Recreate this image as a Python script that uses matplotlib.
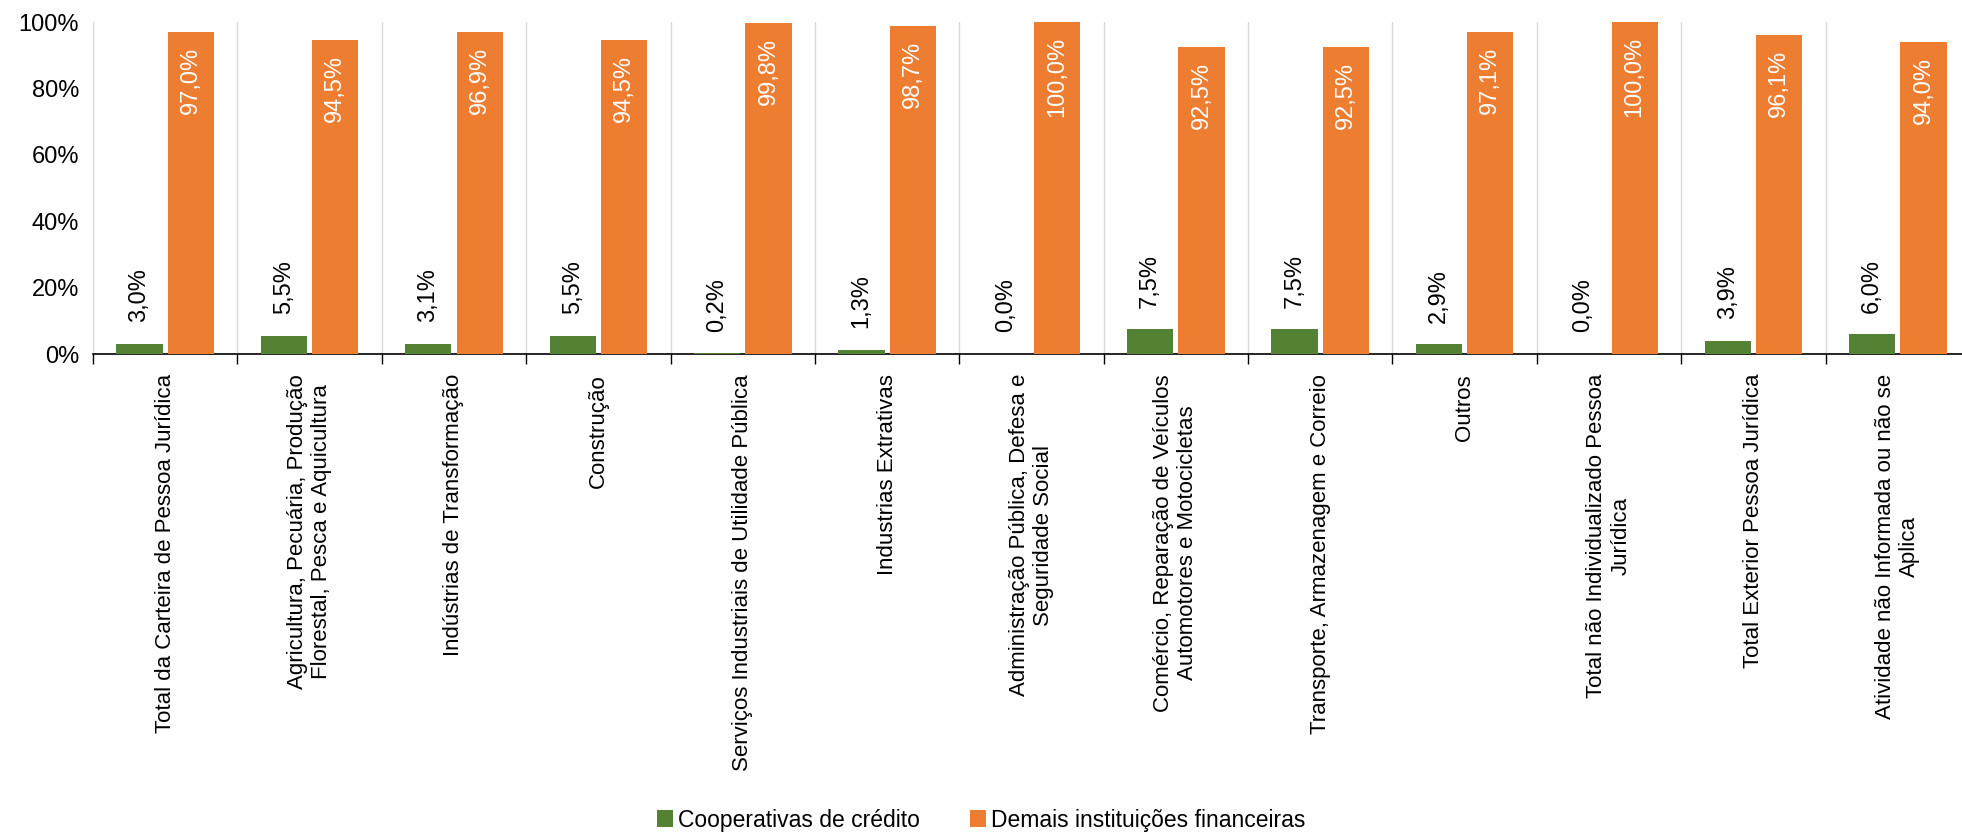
import numpy as np
import matplotlib.pyplot as plt

categorias = [
    "Total da Carteira de Pessoa Jurídica",
    "Agricultura, Pecuária, Produção\nFlorestal, Pesca e Aquicultura",
    "Indústrias de Transformação",
    "Construção",
    "Serviços Industriais de Utilidade Pública",
    "Industrias Extrativas",
    "Administração Pública, Defesa e\nSeguridade Social",
    "Comércio, Reparação de Veículos\nAutomotores e Motocicletas",
    "Transporte, Armazenagem e Correio",
    "Outros",
    "Total não Individualizado Pessoa\nJurídica",
    "Total Exterior Pessoa Jurídica",
    "Atividade não Informada ou não se\nAplica",
]
cooperativas = [3.0, 5.5, 3.1, 5.5, 0.2, 1.3, 0.0, 7.5, 7.5, 2.9, 0.0, 3.9, 6.0]
demais = [97.0, 94.5, 96.9, 94.5, 99.8, 98.7, 100.0, 92.5, 92.5, 97.1, 100.0, 96.1, 94.0]
series_nomes = ["Cooperativas de crédito", "Demais instituições financeiras"]
yticks = [0, 20, 40, 60, 80, 100]

verde = "#548235"
laranja = "#ED7D31"
fonte = "Liberation Sans"

def fmt(v):
    return f"{v:.1f}%".replace(".", ",")

W, H = 1962, 836
fig = plt.figure(figsize=(W / 100, H / 100), dpi=100)
# last category is cut off by the figure edge in the original
left, right, top, bottom = 93, 1970, 22, 354
ax = fig.add_axes([left / W, 1 - bottom / H, (right - left) / W, (bottom - top) / H])

x = np.arange(len(categorias))
larg = 0.32
ax.bar(x - 0.178, cooperativas, larg, color=verde, label=series_nomes[0], zorder=3)
ax.bar(x + 0.178, demais, larg, color=laranja, label=series_nomes[1], zorder=3)

for i in range(len(categorias)):
    ax.text(x[i] - 0.178, cooperativas[i] + 6.5, fmt(cooperativas[i]), rotation=90,
            ha="center", va="bottom", fontsize=17, family=fonte, color="black", zorder=4)
    ax.text(x[i] + 0.178, demais[i] - 4.5, fmt(demais[i]), rotation=90,
            ha="center", va="top", fontsize=17, family=fonte, color="white", zorder=4)

ax.set_xlim(-0.5, len(categorias) - 0.5)
ax.set_ylim(0, 100)

# vertical separators between categories
for b in np.arange(-0.5, len(categorias), 1.0):
    ax.axvline(b, color="#d9d9d9", linewidth=1, zorder=1)

ax.set_xticks(np.arange(-0.5, len(categorias), 1.0))
ax.set_xticklabels([])
ax.tick_params(axis="x", length=7, width=1, color="black", direction="out")
ax.set_yticks(yticks)
ax.set_yticklabels([f"{t}%" for t in yticks], fontsize=17, family=fonte)
ax.tick_params(axis="y", length=0, pad=10)

for s in ["top", "right", "left"]:
    ax.spines[s].set_visible(False)
ax.spines["bottom"].set_color("black")
ax.spines["bottom"].set_linewidth(1.2)

for i, c in enumerate(categorias):
    ax.text(x[i], -6, c, rotation=90, ha="center", va="top", multialignment="center",
            fontsize=16, family=fonte, color="black", transform=ax.transData)

fig.legend(loc="center", bbox_to_anchor=(0.5, 1 - 820 / H), ncol=2, frameon=False,
           prop={"family": fonte, "size": 16.5}, handlelength=0.7, handleheight=0.7,
           handletextpad=0.2, columnspacing=2.2)

fig.savefig("out.png", dpi=100)
